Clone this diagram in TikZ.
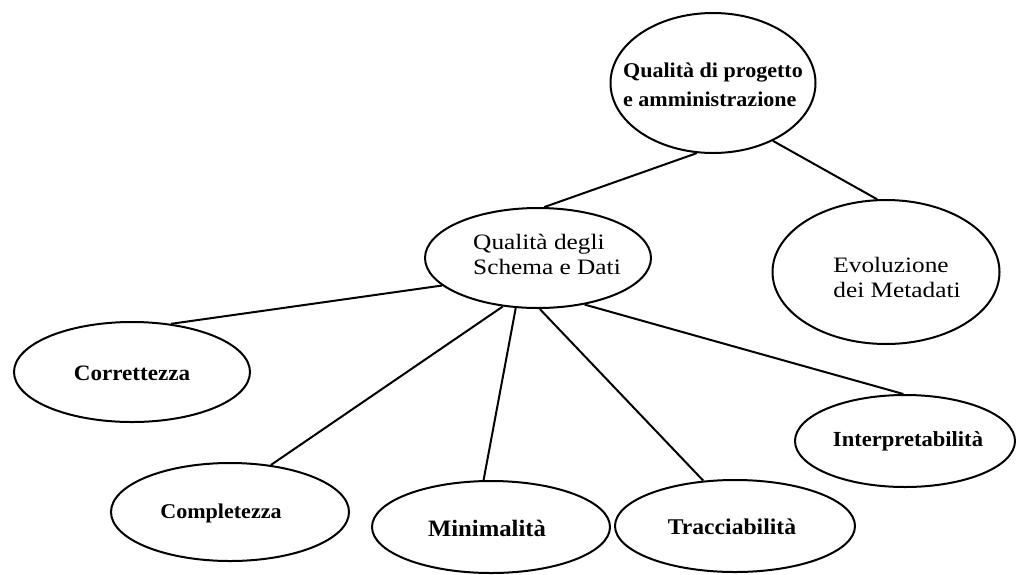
\documentclass[tikz,border=0pt]{standalone}
\usepackage{fontspec}
\setmainfont{Liberation Serif}
\newfontfamily\headfont[FakeStretch=1.05]{Liberation Serif}
\newfontfamily\plainfont[FakeStretch=1.15]{Liberation Serif}
\usetikzlibrary{shapes.geometric}
\begin{document}
\begin{tikzpicture}[x=1pt,y=-1pt,
  oval/.style={ellipse, draw=black, line width=2pt, inner sep=0pt},
  boldtext/.style={font=\headfont\bfseries\fontsize{#1}{29}\selectfont, align=left, inner sep=0pt},
  boldtext/.default=21,
  plaintext/.style={font=\plainfont\fontsize{22}{25}\selectfont, align=left, inner sep=0pt},
  link/.style={draw=black, line width=2pt}]
\useasboundingbox (0,0) rectangle (1018,574);

% ellipses
\node[oval, minimum width=205, minimum height=140] (top)    at (713,83)  {};
\node[oval, minimum width=226, minimum height=100] (schema) at (538,258) {};
\node[oval, minimum width=227, minimum height=144] (evo)    at (886,272) {};
\node[oval, minimum width=236, minimum height=100] (corr)   at (132,372) {};
\node[oval, minimum width=220, minimum height=92]  (interp) at (905,441) {};
\node[oval, minimum width=238, minimum height=98]  (compl)  at (230,512) {};
\node[oval, minimum width=238, minimum height=92]  (mini)   at (491,527) {};
\node[oval, minimum width=240, minimum height=92]  (tracc)  at (735,526) {};

% labels
\node[boldtext]      (topT)    at (713,85)  {Qualità di progetto\\e amministrazione};
\node[plaintext]     (schemaT) at (547,254) {Qualità degli\\Schema e Dati};
\node[plaintext]     (evoT)    at (897,277) {Evoluzione\\dei Metadati};
\node[boldtext=22]   (corrT)   at (132,373) {Correttezza};
\node[boldtext=21.5] (interpT) at (908,441) {Interpretabilità};
\node[boldtext]      (complT)  at (221,513) {Completezza};
\node[boldtext=23.5] (miniT)   at (487,528) {Minimalità};
\node[boldtext=22.5] (traccT)  at (732,527) {Tracciabilità};

% connectors
\draw[link] (top.257)    -- (schema.83);
\draw[link] (top.316)    -- (evo.97);
\draw[link] (schema.196) -- (corr.51);
\draw[link] (schema.234) -- (compl.49);
\draw[link] (schema.246) -- (mini.99);
\draw[link] (schema.272) -- (tracc.125);
\draw[link] (schema.315) -- (interp.92);
\end{tikzpicture}
\end{document}
